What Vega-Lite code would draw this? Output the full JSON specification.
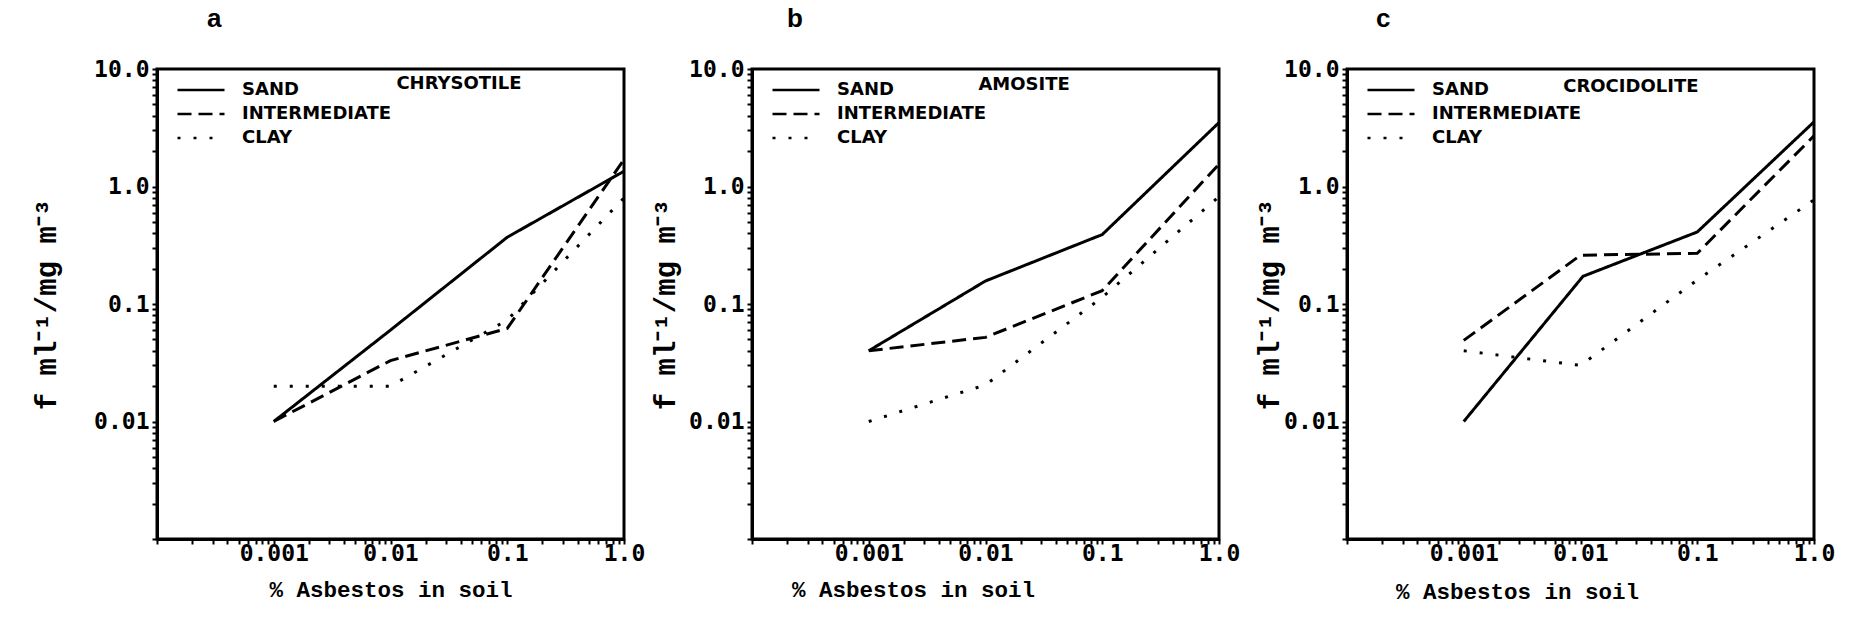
{
  "$schema": "https://vega.github.io/schema/vega-lite/v6.json",
  "background": "white",
  "padding": {"left": 31, "top": 4, "right": 5, "bottom": 5},
  "datasets": {
    "curves": [
      {"panel": "a", "soil": "SAND", "pct": 0.001, "f": 0.01},
      {"panel": "a", "soil": "SAND", "pct": 0.01, "f": 0.06},
      {"panel": "a", "soil": "SAND", "pct": 0.1, "f": 0.37},
      {"panel": "a", "soil": "SAND", "pct": 1, "f": 1.35},
      {"panel": "a", "soil": "INTERMEDIATE", "pct": 0.001, "f": 0.01},
      {"panel": "a", "soil": "INTERMEDIATE", "pct": 0.01, "f": 0.033},
      {"panel": "a", "soil": "INTERMEDIATE", "pct": 0.1, "f": 0.062},
      {"panel": "a", "soil": "INTERMEDIATE", "pct": 1, "f": 1.7},
      {"panel": "a", "soil": "CLAY", "pct": 0.001, "f": 0.02},
      {"panel": "a", "soil": "CLAY", "pct": 0.01, "f": 0.02},
      {"panel": "a", "soil": "CLAY", "pct": 0.1, "f": 0.073},
      {"panel": "a", "soil": "CLAY", "pct": 1, "f": 0.8},
      {"panel": "b", "soil": "SAND", "pct": 0.001, "f": 0.04},
      {"panel": "b", "soil": "SAND", "pct": 0.01, "f": 0.157},
      {"panel": "b", "soil": "SAND", "pct": 0.1, "f": 0.39},
      {"panel": "b", "soil": "SAND", "pct": 1, "f": 3.5},
      {"panel": "b", "soil": "INTERMEDIATE", "pct": 0.001, "f": 0.04},
      {"panel": "b", "soil": "INTERMEDIATE", "pct": 0.01, "f": 0.052},
      {"panel": "b", "soil": "INTERMEDIATE", "pct": 0.1, "f": 0.13},
      {"panel": "b", "soil": "INTERMEDIATE", "pct": 1, "f": 1.55},
      {"panel": "b", "soil": "CLAY", "pct": 0.001, "f": 0.01},
      {"panel": "b", "soil": "CLAY", "pct": 0.01, "f": 0.0205},
      {"panel": "b", "soil": "CLAY", "pct": 0.1, "f": 0.114},
      {"panel": "b", "soil": "CLAY", "pct": 1, "f": 0.82},
      {"panel": "c", "soil": "SAND", "pct": 0.001, "f": 0.01},
      {"panel": "c", "soil": "SAND", "pct": 0.0105, "f": 0.172},
      {"panel": "c", "soil": "SAND", "pct": 0.1, "f": 0.41},
      {"panel": "c", "soil": "SAND", "pct": 1, "f": 3.55},
      {"panel": "c", "soil": "INTERMEDIATE", "pct": 0.001, "f": 0.049},
      {"panel": "c", "soil": "INTERMEDIATE", "pct": 0.01, "f": 0.26},
      {"panel": "c", "soil": "INTERMEDIATE", "pct": 0.1, "f": 0.27},
      {"panel": "c", "soil": "INTERMEDIATE", "pct": 1, "f": 2.7},
      {"panel": "c", "soil": "CLAY", "pct": 0.001, "f": 0.04},
      {"panel": "c", "soil": "CLAY", "pct": 0.01, "f": 0.03},
      {"panel": "c", "soil": "CLAY", "pct": 0.1, "f": 0.16},
      {"panel": "c", "soil": "CLAY", "pct": 1, "f": 0.77}
    ],
    "minerals": [
      {"panel": "a", "mineral": "CHRYSOTILE"},
      {"panel": "b", "mineral": "AMOSITE"},
      {"panel": "c", "mineral": "CROCIDOLITE"}
    ]
  },
  "spacing": 128,
  "bounds": "flush",
  "resolve": {"scale": {"strokeDash": "independent", "x": "independent", "y": "independent"}, "legend": {"strokeDash": "independent"}},
  "hconcat": [
    {
      "width": 467, "height": 470,
      "title": {"text": "a", "anchor": "start", "dx": 50, "offset": 26},
      "layer": [
        {
          "data": {"name": "curves"},
          "transform": [{"filter": "datum.panel == 'a'"}],
          "mark": {"type": "line", "color": "black", "strokeWidth": 3},
          "encoding": {
            "x": {"field": "pct", "type": "quantitative", "scale": {"type": "log", "domain": [0.0001, 1], "nice": false},
              "axis": {"title": "% Asbestos in soil", "titlePadding": 13,
                "values": [0.0001,0.0002,0.0003,0.0004,0.0005,0.0006,0.0007,0.0008,0.0009,0.001,0.002,0.003,0.004,0.005,0.006,0.007,0.008,0.009,0.01,0.02,0.03,0.04,0.05,0.06,0.07,0.08,0.09,0.1,0.2,0.3,0.4,0.5,0.6,0.7,0.8,0.9,1],
                "labelExpr": "datum.value === 0.001 ? '0.001' : datum.value === 0.01 ? '0.01' : datum.value === 0.1 ? '0.1' : datum.value === 1 ? '1.0' : ''"}},
            "y": {"field": "f", "type": "quantitative", "scale": {"type": "log", "domain": [0.001, 10], "nice": false},
              "axis": {"title": "f ml⁻¹/mg m⁻³", "titlePadding": 32,
                "values": [0.001,0.002,0.003,0.004,0.005,0.006,0.007,0.008,0.009,0.01,0.02,0.03,0.04,0.05,0.06,0.07,0.08,0.09,0.1,0.2,0.3,0.4,0.5,0.6,0.7,0.8,0.9,1,2,3,4,5,6,7,8,9,10],
                "labelExpr": "datum.value === 0.01 ? '0.01' : datum.value === 0.1 ? '0.1' : datum.value === 1 ? '1.0' : datum.value === 10 ? '10.0' : ''"}},
            "strokeDash": {"field": "soil", "type": "nominal",
              "scale": {"domain": ["SAND", "INTERMEDIATE", "CLAY"], "range": [[1, 0], [14, 7], [3, 13]]},
              "legend": {"title": null}},
            "order": {"field": "pct"}
          }
        },
        {
          "data": {"name": "minerals"},
          "transform": [{"filter": "datum.panel == 'a'"}],
          "mark": {"type": "text"},
          "encoding": {
            "x": {"datum": 0.0386, "type": "quantitative"},
            "y": {"datum": 7.4, "type": "quantitative"},
            "text": {"field": "mineral"}
          }
        }
      ]
    },
    {
      "width": 467, "height": 470,
      "title": {"text": "b", "anchor": "start", "dx": 35, "offset": 26},
      "layer": [
        {
          "data": {"name": "curves"},
          "transform": [{"filter": "datum.panel == 'b'"}],
          "mark": {"type": "line", "color": "black", "strokeWidth": 3},
          "encoding": {
            "x": {"field": "pct", "type": "quantitative", "scale": {"type": "log", "domain": [0.0001, 1], "nice": false},
              "axis": {"title": "% Asbestos in soil", "titlePadding": 13, "titleX": 161,
                "values": [0.0001,0.0002,0.0003,0.0004,0.0005,0.0006,0.0007,0.0008,0.0009,0.001,0.002,0.003,0.004,0.005,0.006,0.007,0.008,0.009,0.01,0.02,0.03,0.04,0.05,0.06,0.07,0.08,0.09,0.1,0.2,0.3,0.4,0.5,0.6,0.7,0.8,0.9,1],
                "labelExpr": "datum.value === 0.001 ? '0.001' : datum.value === 0.01 ? '0.01' : datum.value === 0.1 ? '0.1' : datum.value === 1 ? '1.0' : ''"}},
            "y": {"field": "f", "type": "quantitative", "scale": {"type": "log", "domain": [0.001, 10], "nice": false},
              "axis": {"title": "f ml⁻¹/mg m⁻³", "titlePadding": 8,
                "values": [0.001,0.002,0.003,0.004,0.005,0.006,0.007,0.008,0.009,0.01,0.02,0.03,0.04,0.05,0.06,0.07,0.08,0.09,0.1,0.2,0.3,0.4,0.5,0.6,0.7,0.8,0.9,1,2,3,4,5,6,7,8,9,10],
                "labelExpr": "datum.value === 0.01 ? '0.01' : datum.value === 0.1 ? '0.1' : datum.value === 1 ? '1.0' : datum.value === 10 ? '10.0' : ''"}},
            "strokeDash": {"field": "soil", "type": "nominal",
              "scale": {"domain": ["SAND", "INTERMEDIATE", "CLAY"], "range": [[1, 0], [14, 7], [3, 13]]},
              "legend": {"title": null}},
            "order": {"field": "pct"}
          }
        },
        {
          "data": {"name": "minerals"},
          "transform": [{"filter": "datum.panel == 'b'"}],
          "mark": {"type": "text"},
          "encoding": {
            "x": {"datum": 0.0214, "type": "quantitative"},
            "y": {"datum": 7.3, "type": "quantitative"},
            "text": {"field": "mineral"}
          }
        }
      ]
    },
    {
      "width": 467, "height": 470,
      "title": {"text": "c", "anchor": "start", "dx": 29, "offset": 26},
      "layer": [
        {
          "data": {"name": "curves"},
          "transform": [{"filter": "datum.panel == 'c'"}],
          "mark": {"type": "line", "color": "black", "strokeWidth": 3},
          "encoding": {
            "x": {"field": "pct", "type": "quantitative", "scale": {"type": "log", "domain": [0.0001, 1], "nice": false},
              "axis": {"title": "% Asbestos in soil", "titlePadding": 15, "titleX": 170,
                "values": [0.0001,0.0002,0.0003,0.0004,0.0005,0.0006,0.0007,0.0008,0.0009,0.001,0.002,0.003,0.004,0.005,0.006,0.007,0.008,0.009,0.01,0.02,0.03,0.04,0.05,0.06,0.07,0.08,0.09,0.1,0.2,0.3,0.4,0.5,0.6,0.7,0.8,0.9,1],
                "labelExpr": "datum.value === 0.001 ? '0.001' : datum.value === 0.01 ? '0.01' : datum.value === 0.1 ? '0.1' : datum.value === 1 ? '1.0' : ''"}},
            "y": {"field": "f", "type": "quantitative", "scale": {"type": "log", "domain": [0.001, 10], "nice": false},
              "axis": {"title": "f ml⁻¹/mg m⁻³", "titlePadding": -1,
                "values": [0.001,0.002,0.003,0.004,0.005,0.006,0.007,0.008,0.009,0.01,0.02,0.03,0.04,0.05,0.06,0.07,0.08,0.09,0.1,0.2,0.3,0.4,0.5,0.6,0.7,0.8,0.9,1,2,3,4,5,6,7,8,9,10],
                "labelExpr": "datum.value === 0.01 ? '0.01' : datum.value === 0.1 ? '0.1' : datum.value === 1 ? '1.0' : datum.value === 10 ? '10.0' : ''"}},
            "strokeDash": {"field": "soil", "type": "nominal",
              "scale": {"domain": ["SAND", "INTERMEDIATE", "CLAY"], "range": [[1, 0], [14, 7], [3, 13]]},
              "legend": {"title": null}},
            "order": {"field": "pct"}
          }
        },
        {
          "data": {"name": "minerals"},
          "transform": [{"filter": "datum.panel == 'c'"}],
          "mark": {"type": "text"},
          "encoding": {
            "x": {"datum": 0.027, "type": "quantitative"},
            "y": {"datum": 7.08, "type": "quantitative"},
            "text": {"field": "mineral"}
          }
        }
      ]
    }
  ],
  "config": {
    "view": {"stroke": "black", "strokeWidth": 3},
    "title": {"font": "Liberation Sans", "fontSize": 26, "fontWeight": "bold", "color": "black", "frame": "group"},
    "axis": {
      "domainColor": "black", "domainWidth": 3, "tickColor": "black", "tickWidth": 2, "tickSize": 5, "grid": false,
      "labelColor": "black", "titleColor": "black",
      "labelFont": "DejaVu Sans Mono", "labelFontWeight": "bold", "labelFontSize": 23,
      "titleFont": "Liberation Mono", "titleFontWeight": "bold",
      "labelOverlap": false, "labelFlush": false, "labelBound": false
    },
    "axisX": {"titleFontSize": 22.5, "labelPadding": -2},
    "axisY": {"titleFontSize": 29, "labelPadding": 3},
    "legend": {
      "orient": "top-left", "offset": 12, "padding": 0,
      "symbolType": "M-4.7,0H4.7", "symbolSize": 100, "symbolStrokeWidth": 2.5, "symbolStrokeColor": "black",
      "symbolOffset": 23,
      "labelFont": "DejaVu Sans", "labelFontWeight": "bold", "labelFontSize": 18, "labelColor": "black",
      "labelOffset": 32, "rowPadding": 6
    },
    "text": {"font": "DejaVu Sans", "fontWeight": "bold", "fontSize": 18, "color": "black", "align": "center", "baseline": "middle"}
  }
}
